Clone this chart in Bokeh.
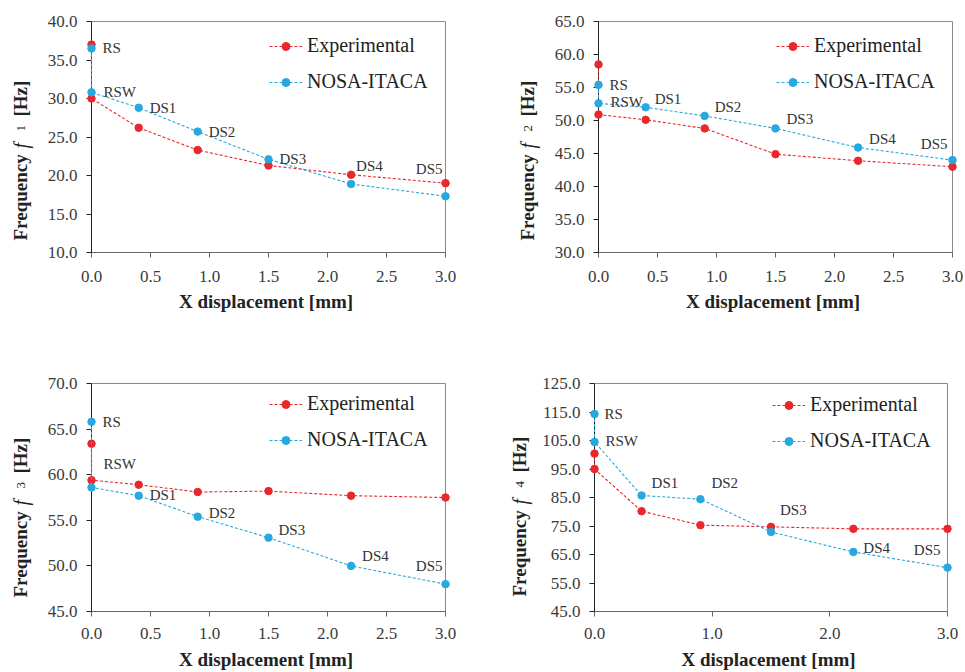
import math
from bokeh.plotting import figure
from bokeh.models import (ColumnDataSource, FixedTicker, NumeralTickFormatter,
                          Legend, LegendItem, Range1d)
from bokeh.layouts import column, row
from bokeh.embed import file_html
from bokeh.resources import INLINE
from bokeh.core.properties import value

# ---------------- data ----------------
point_names = ["RS", "RSW", "DS1", "DS2", "DS3", "DS4", "DS5"]
x_disp = [0.0, 0.0, 0.4, 0.9, 1.5, 2.2, 3.0]

f1_exp = [37.0, 30.0, 26.2, 23.3, 21.3, 20.1, 19.0]
f1_nosa = [36.5, 30.8, 28.8, 25.7, 22.1, 18.9, 17.3]
f2_exp = [58.5, 50.9, 50.1, 48.8, 44.9, 43.9, 43.0]
f2_nosa = [55.4, 52.6, 52.0, 50.7, 48.8, 45.9, 44.0]
f3_exp = [63.4, 59.4, 58.9, 58.1, 58.2, 57.7, 57.5]
f3_nosa = [65.8, 58.6, 57.7, 55.4, 53.1, 50.0, 48.0]
f4_exp = [100.4, 95.0, 80.2, 75.3, 74.7, 74.0, 74.0]
f4_nosa = [114.3, 104.5, 85.7, 84.4, 72.9, 65.9, 60.4]

x_ticks_half = [0.0, 0.5, 1.0, 1.5, 2.0, 2.5, 3.0]
x_ticks_unit = [0.0, 1.0, 2.0, 3.0]
f1_ticks = [10, 15, 20, 25, 30, 35, 40]
f2_ticks = [30, 35, 40, 45, 50, 55, 60, 65]
f3_ticks = [45, 50, 55, 60, 65, 70]
f4_ticks = [45, 55, 65, 75, 85, 95, 105, 115, 125]

series_names = ["Experimental", "NOSA-ITACA"]

# ---------------- styling / layout ----------------
RED = "#E8282C"
BLUE = "#27A8DF"
SERIF = "'Liberation Serif', 'Times New Roman', serif"
TXT = "#333333"

# label offsets (px right, px up, align) relative to NOSA points
lab_p1 = [(11, 0, "left"), (12, 0, "left"), (11, 0, "left"), (11, 0, "left"),
          (11, 0, "left"), (5, 18, "left"), (-3, 27, "right")]
lab_p2 = [(11, 0, "left"), (12, 1, "left"), (9, 8, "left"), (10, 9, "left"),
          (11, 9, "left"), (11, 9, "left"), (-5, 16, "right")]
lab_p3 = [(11, 0, "left"), (12, 23, "left"), (11, 1, "left"), (11, 4, "left"),
          (10, 8, "left"), (11, 10, "left"), (-3, 18, "right")]
lab_p4 = [(10, 0, "left"), (11, 1, "left"), (10, 13, "left"), (11, 16, "left"),
          (9, 22, "left"), (10, 4, "left"), (-7, 18, "right")]

panels = [
    dict(exp=f1_exp, nosa=f1_nosa, yr=(10, 40), yt=f1_ticks, xt=x_ticks_half, sub="1",
         lab=lab_p1, W=482, H=330, bl=91, bt=21, br=37, bb=78, ts=13, ls=6, ylx=-71, yly=12),
    dict(exp=f2_exp, nosa=f2_nosa, yr=(30, 65), yt=f2_ticks, xt=x_ticks_half, sub="2",
         lab=lab_p2, W=483, H=330, bl=116, bt=21, br=13, bb=78, ts=13, ls=6, ylx=-71, yly=12),
    dict(exp=f3_exp, nosa=f3_nosa, yr=(45, 70), yt=f3_ticks, xt=x_ticks_half, sub="3",
         lab=lab_p3, W=482, H=342, bl=91, bt=51, br=37, bb=59, ts=11, ls=7, ylx=-71, yly=14),
    dict(exp=f4_exp, nosa=f4_nosa, yr=(45, 125), yt=f4_ticks, xt=x_ticks_unit, sub="4",
         lab=lab_p4, W=483, H=342, bl=112, bt=53, br=18, bb=58, ts=11, ls=7, ylx=-75, yly=15),
]


def make_panel(d):
    fh = d["H"] - d["bt"] - d["bb"]
    p = figure(width=d["W"], height=d["H"], output_backend="svg", toolbar_location=None,
               x_range=Range1d(0, 3), y_range=Range1d(*d["yr"]),
               min_border_left=d["bl"], min_border_right=d["br"],
               min_border_top=d["bt"], min_border_bottom=d["bb"])
    p.xgrid.visible = False
    p.ygrid.visible = False
    p.outline_line_color = "#8a8a8a"
    p.outline_line_width = 1
    p.background_fill_color = "white"
    p.border_fill_color = "white"

    p.xaxis.ticker = FixedTicker(ticks=d["xt"])
    p.yaxis.ticker = FixedTicker(ticks=d["yt"])
    p.xaxis.formatter = NumeralTickFormatter(format="0.0")
    p.yaxis.formatter = NumeralTickFormatter(format="0.0")
    for ax in (p.xaxis, p.yaxis):
        ax.major_tick_in = 0
        ax.major_tick_out = 5
        ax.minor_tick_line_color = None
        ax.major_label_text_font = SERIF
        ax.major_label_text_font_size = "17px"
        ax.major_label_text_color = "#3a3a3a"
    p.xaxis.axis_line_color = "#666666"
    p.xaxis.major_tick_line_color = "#666666"
    p.yaxis.axis_line_color = "#222222"
    p.yaxis.major_tick_line_color = "#222222"
    p.xaxis.major_label_standoff = d["ts"]
    p.yaxis.major_label_standoff = 9
    p.xaxis.axis_label = "X displacement  [mm]"
    p.xaxis.axis_label_text_font = SERIF
    p.xaxis.axis_label_text_font_style = "bold"
    p.xaxis.axis_label_text_font_size = "19px"
    p.xaxis.axis_label_text_color = "#222222"
    p.xaxis.axis_label_standoff = d["ls"]

    src_e = ColumnDataSource(dict(x=x_disp, y=d["exp"]))
    src_n = ColumnDataSource(dict(x=x_disp, y=d["nosa"]))
    le = p.line("x", "y", source=src_e, line_color=RED, line_width=1.1,
                line_dash="3 2", level="overlay")
    se = p.scatter("x", "y", source=src_e, size=7.5, fill_color=RED, line_color=RED,
                   level="overlay")
    ln = p.line("x", "y", source=src_n, line_color=BLUE, line_width=1.1,
                line_dash="3 2", level="overlay")
    sn = p.scatter("x", "y", source=src_n, size=7.5, fill_color=BLUE, line_color=BLUE,
                   level="overlay")

    lab = d["lab"]
    src_t = ColumnDataSource(dict(x=x_disp, y=d["nosa"], t=point_names,
                                  dx=[o[0] for o in lab], dy=[-o[1] for o in lab],
                                  al=[o[2] for o in lab]))
    p.text("x", "y", text="t", source=src_t, x_offset="dx", y_offset="dy",
           text_align="al", text_baseline="middle", text_font=value(SERIF),
           text_font_size="15px", text_color=TXT, level="overlay")

    legend = Legend(items=[LegendItem(label=series_names[0], renderers=[le, se]),
                           LegendItem(label=series_names[1], renderers=[ln, sn])],
                    location=(178, fh - 19 - 53), padding=0, spacing=13, margin=0,
                    border_line_color=None, background_fill_alpha=0,
                    glyph_width=33, glyph_height=20, label_height=20, label_standoff=5,
                    label_text_font=SERIF, label_text_font_size="20px",
                    label_text_color="#222222")
    p.add_layout(legend)

    # y axis title "Frequency  f_n [Hz]" built from pieces, anchored at the
    # frame's bottom-left corner with pixel offsets (unclipped overlay text)
    x_anchor = [p.x_range.start]
    y_anchor = [p.y_range.start]
    pieces = [("Frequency", "bold", "19px", 0, 0),
              ("f", "italic", "20px", 0, 92),
              (d["sub"], "normal", "13px", 0, 109),
              ("[Hz]", "bold", "19px", 0, 124)]
    for txt, style, size, ddx, ddy in pieces:
        p.text(x=x_anchor, y=y_anchor, text=[txt], angle=math.pi / 2,
               x_offset=d["ylx"] + ddx, y_offset=-(d["yly"] + ddy),
               text_align="left", text_baseline="middle", text_font=value(SERIF),
               text_font_style=style, text_font_size=size, text_color="#222222",
               level="overlay")
    return p


figs = [make_panel(d) for d in panels]
layout = column(row(figs[0], figs[1]), row(figs[2], figs[3]))

with open("out.html", "w") as fh:
    fh.write(file_html(layout, INLINE))
